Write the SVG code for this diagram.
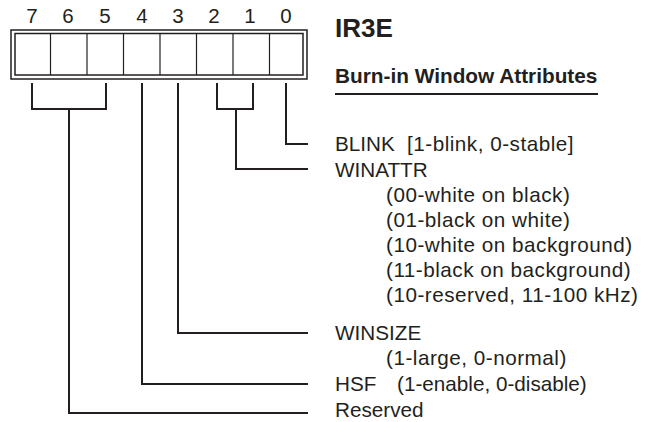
<svg xmlns="http://www.w3.org/2000/svg" width="654" height="422" viewBox="0 0 654 422">
<style>
text{font-family:"Liberation Sans",Arial,sans-serif;fill:#231f20}
.bit{font-size:20.5px;text-anchor:middle}
.lbl{font-size:20.7px}
.sp{letter-spacing:0.5px}
.ttl{font-weight:bold}
.c{fill:none;stroke:#231f20;stroke-width:2}
.box{fill:#fff;stroke:#231f20;stroke-width:1.5}
.div{stroke:#231f20;stroke-width:1.2}
</style>
<rect width="654" height="422" fill="#fff"/>
<g id="register">
<rect class="box" x="11" y="30" width="296" height="49"/>
<rect class="box" x="15" y="33.5" width="288" height="41.5"/>
<line class="div" x1="50.5" y1="33.5" x2="50.5" y2="75"/>
<line class="div" x1="87" y1="33.5" x2="87" y2="75"/>
<line class="div" x1="123.5" y1="33.5" x2="123.5" y2="75"/>
<line class="div" x1="160" y1="33.5" x2="160" y2="75"/>
<line class="div" x1="196.5" y1="33.5" x2="196.5" y2="75"/>
<line class="div" x1="233" y1="33.5" x2="233" y2="75"/>
<line class="div" x1="269.5" y1="33.5" x2="269.5" y2="75"/>
<text class="bit" x="32" y="23">7</text>
<text class="bit" x="68" y="23">6</text>
<text class="bit" x="105" y="23">5</text>
<text class="bit" x="142" y="23">4</text>
<text class="bit" x="178" y="23">3</text>
<text class="bit" x="214" y="23">2</text>
<text class="bit" x="250" y="23">1</text>
<text class="bit" x="286" y="23">0</text>
</g>
<g id="title">
<text class="ttl" x="335" y="37" font-size="26">IR3E</text>
<text class="ttl" x="335" y="83" font-size="20.8">Burn-in Window Attributes</text>
<line x1="335" y1="94" x2="598" y2="94" stroke="#231f20" stroke-width="2"/>
</g>
<g id="connectors">
<path class="c" d="M32,83V109H106V83M69,109V413H308"/>
<path class="c" d="M142,83V384H308"/>
<path class="c" d="M178,83V333H308"/>
<path class="c" d="M217,83V109H253V83M236,109V169H308"/>
<path class="c" d="M286,83V144H308"/>
</g>
<g id="blink"><text class="lbl" x="335" y="151">BLINK<tspan class="sp" x="407">[1-blink, 0-stable]</tspan></text></g>
<g id="winattr">
<text class="lbl" x="335" y="177">WINATTR</text>
<text class="lbl sp" x="386" y="202">(00-white on black)</text>
<text class="lbl sp" x="386" y="227">(01-black on white)</text>
<text class="lbl sp" x="386" y="252">(10-white on background)</text>
<text class="lbl sp" x="386" y="277">(11-black on background)</text>
<text class="lbl sp" x="386" y="302">(10-reserved, 11-100 kHz)</text>
</g>
<g id="winsize">
<text class="lbl" x="335" y="340">WINSIZE</text>
<text class="lbl sp" x="386" y="365">(1-large, 0-normal)</text>
</g>
<g id="hsf"><text class="lbl" x="335" y="391">HSF<tspan x="397">(1-enable, 0-disable)</tspan></text></g>
<g id="reserved"><text class="lbl" x="335" y="417">Reserved</text></g>
</svg>
